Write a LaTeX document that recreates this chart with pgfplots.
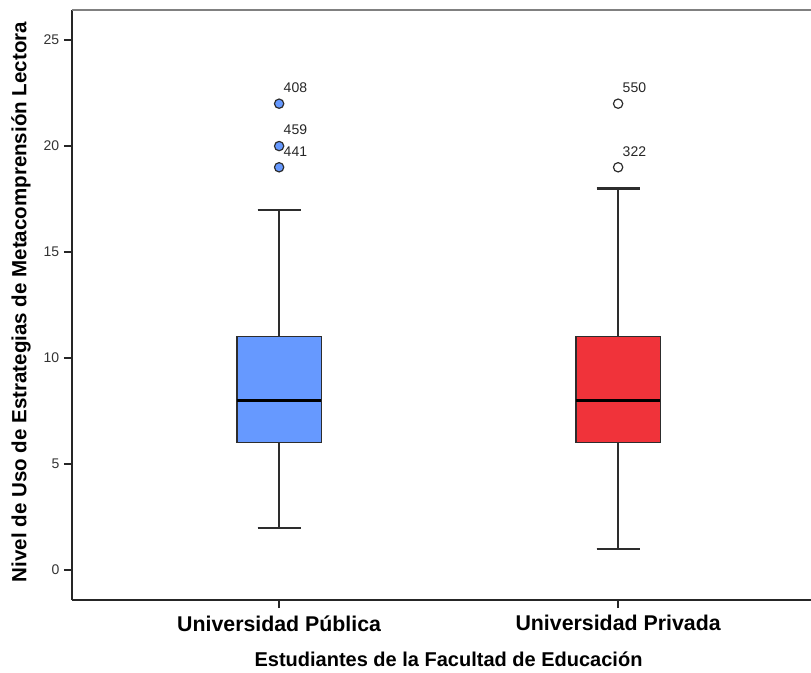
\documentclass[border=0pt]{standalone}
\usepackage{fontspec}
\setmainfont{Liberation Sans}
\usepackage{pgfplots}
\pgfplotsset{compat=1.18}
\usepgfplotslibrary{statistics}
\definecolor{pubblue}{RGB}{102,153,255}
\definecolor{privred}{RGB}{240,51,58}
\definecolor{edge}{RGB}{45,45,45}

\begin{document}
\begin{tikzpicture}
\begin{axis}[
  scale only axis,
  width=554.25pt, height=442.5pt,
  xmin=0.389, xmax=2.569,
  ymin=-1.415, ymax=26.42,
  axis lines=left,
  axis line style={-, line width=1.2pt, black!85},
  clip=false,
  xtick={1,2},
  xticklabels={Universidad Pública, Universidad Privada},
  ytick={0,5,10,15,20,25},
  tick align=outside,
  major tick length=6pt,
  tick style={line width=1.1pt, black!85},
  /pgf/number format/assume math mode=true,
  y tick label style={font=\fontsize{10.5}{12}\selectfont, text=black!80},
  x tick label style={font=\fontsize{16}{19}\selectfont\bfseries, yshift=-2pt},
  xlabel={Estudiantes de la Facultad de Educación},
  ylabel={Nivel de Uso de Estrategias de Metacomprensión Lectora},
  every axis x label/.style={at={(axis description cs:0.5095,-0.1)}, anchor=center,
    font=\fontsize{15}{18}\selectfont\bfseries},
  every axis y label/.style={at={(axis description cs:-0.069,0.505)}, anchor=center, rotate=90,
    font=\fontsize{15.4}{18}\selectfont\bfseries},
  boxplot/draw direction=y,
  boxplot/box extend=0.248,
  boxplot/whisker extend=0.127,
  boxplot/every box/.style={draw=edge, line width=0.9pt},
  boxplot/every median/.style={draw=black, line width=2.6pt},
  boxplot/every whisker/.style={draw=edge, line width=1.6pt},
]
% Universidad Publica
\addplot[fill=pubblue, draw=edge, boxplot prepared={
  draw position=1, lower whisker=2, lower quartile=6, median=8,
  upper quartile=11, upper whisker=17}] coordinates {};
% Universidad Privada
\addplot[fill=privred, draw=edge, boxplot prepared={
  draw position=2, lower whisker=1, lower quartile=6, median=8,
  upper quartile=11, upper whisker=18}] coordinates {};

% outliers with case numbers
\addplot[only marks, mark=*, mark size=3.5pt,
  mark options={fill=pubblue, draw=edge, line width=0.9pt},
  point meta=explicit symbolic, nodes near coords,
  nodes near coords style={anchor=west, inner sep=0pt, xshift=3pt, yshift=12pt,
    font=\fontsize{10.5}{12}\selectfont, text=black!85}]
  table[row sep=\\, meta=id] {x y id\\ 1 22 408\\ 1 20 459\\ 1 19 441\\};
\addplot[only marks, mark=*, mark size=3.5pt,
  mark options={fill=white, draw=edge, line width=0.9pt},
  point meta=explicit symbolic, nodes near coords,
  nodes near coords style={anchor=west, inner sep=0pt, xshift=3pt, yshift=12pt,
    font=\fontsize{10.5}{12}\selectfont, text=black!85}]
  table[row sep=\\, meta=id] {x y id\\ 2 22 550\\ 2 19 322\\};

\draw[black!50, line width=1.6pt] (rel axis cs:0,1) -- (rel axis cs:1,1);
\end{axis}
\pgfresetboundingbox
\path (current axis.south west) ++(-54pt,-54pt) rectangle ([yshift=7.5pt]current axis.north east);
\end{tikzpicture}
\end{document}
